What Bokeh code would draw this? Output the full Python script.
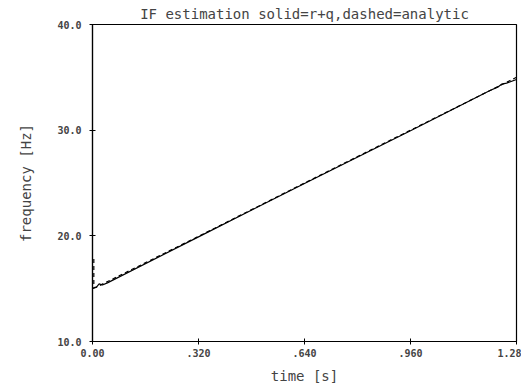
from bokeh.plotting import figure
from bokeh.embed import file_html
from bokeh.resources import INLINE
from bokeh.models import Range1d, FixedTicker

# estimated IF (solid, r+q) and analytic IF (dashed)
t_solid = [0.0, 0.012, 0.02, 0.03, 0.045, 0.32, 0.64, 0.96, 1.20, 1.225, 1.235, 1.25, 1.28]
f_solid = [15.0, 15.15, 15.45, 15.35, 15.55, 19.9, 24.95, 29.95, 33.75, 34.1, 34.35, 34.45, 34.8]
t_dash = [0.004, 0.004, 0.012, 0.32, 0.64, 0.96, 1.28]
f_dash = [17.8, 15.1, 15.15, 19.95, 25.0, 30.0, 35.0]

x_ticks = [0.0, 0.32, 0.64, 0.96, 1.28]
x_labels = ["0.00", ".320", ".640", ".960", "1.28"]
y_ticks = [10, 20, 30, 40]
y_labels = ["10.0", "20.0", "30.0", "40.0"]

p = figure(frame_width=424, frame_height=317, output_backend="svg", toolbar_location=None,
           x_range=Range1d(0, 1.28), y_range=Range1d(10, 40),
           title="IF estimation solid=r+q,dashed=analytic",
           x_axis_label="time [s]", y_axis_label="frequency [Hz]",
           min_border_left=92, min_border_right=5, min_border_top=0, min_border_bottom=4)

p.line(t_solid, f_solid, line_color="black", line_width=1.2)
p.line(t_dash, f_dash, line_color="black", line_width=1.2, line_dash="4 3")

p.title.text_font = "DejaVu Sans Mono"
p.title.text_font_size = "14px"
p.title.text_font_style = "normal"
p.title.align = "center"
p.title.offset = 0
p.title.standoff = 6

p.xgrid.visible = False
p.ygrid.visible = False
p.outline_line_color = "black"
p.outline_line_width = 1.2
p.background_fill_color = "white"
p.border_fill_color = "white"

p.xaxis.ticker = FixedTicker(ticks=x_ticks)
p.xaxis.major_label_overrides = dict(zip(x_ticks, x_labels))
p.yaxis.ticker = FixedTicker(ticks=y_ticks)
p.yaxis.major_label_overrides = dict(zip(y_ticks, y_labels))

for ax in (p.xaxis[0], p.yaxis[0]):
    ax.axis_line_color = "black"
    ax.axis_line_width = 1.2
    ax.major_tick_line_color = "black"
    ax.major_tick_in = 3
    ax.major_tick_out = 3
    ax.minor_tick_line_color = None
    ax.major_label_text_font = "DejaVu Sans Mono"
    ax.major_label_text_font_size = "10px"
    ax.major_label_text_font_style = "bold"
    ax.axis_label_text_font = "DejaVu Sans Mono"
    ax.axis_label_text_font_size = "14px"
    ax.axis_label_text_font_style = "normal"

p.xaxis.major_label_standoff = 4
p.xaxis.axis_label_standoff = 8
p.yaxis.major_label_standoff = 8
p.yaxis.axis_label_standoff = 20
p.yaxis.major_label_orientation = "horizontal"

open("out.html", "w").write(file_html(p, INLINE))
